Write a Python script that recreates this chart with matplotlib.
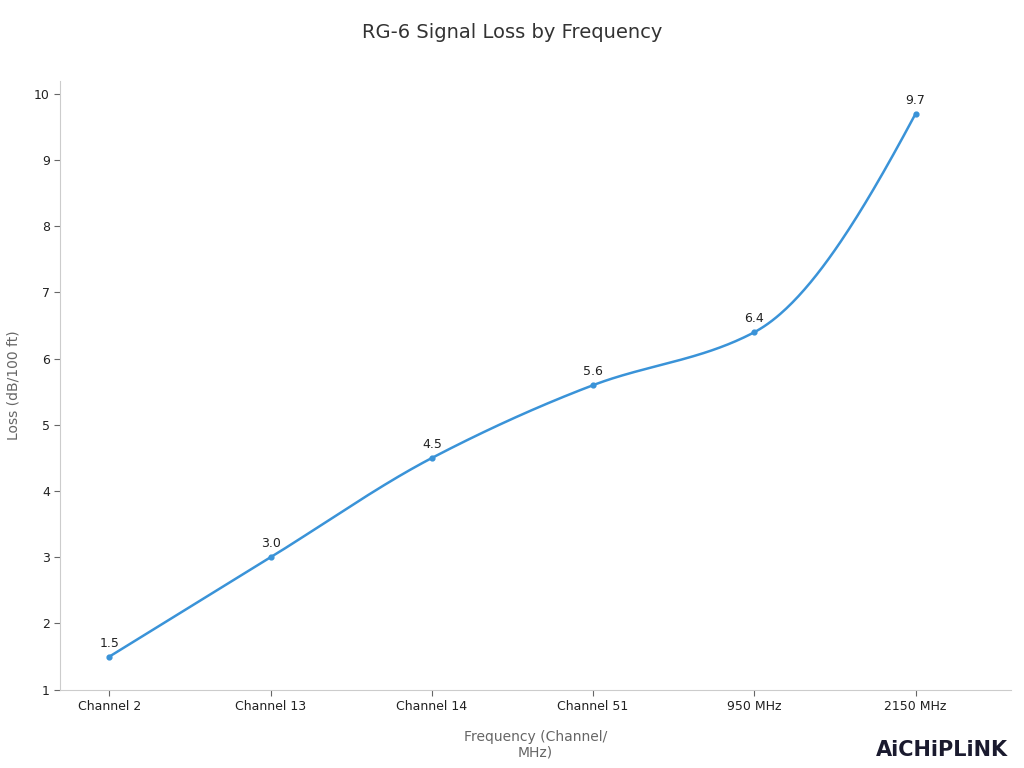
import numpy as np
import matplotlib
matplotlib.use("Agg")
import matplotlib.pyplot as plt

categories = ["Channel 2", "Channel 13", "Channel 14", "Channel 51", "950 MHz", "2150 MHz"]
loss = [1.5, 3.0, 4.5, 5.6, 6.4, 9.7]

def pchip(x, y, xs):
    x = np.asarray(x, float); y = np.asarray(y, float)
    h = np.diff(x); d = np.diff(y) / h
    n = len(x); m = np.zeros(n)
    for k in range(1, n - 1):
        if d[k-1] * d[k] > 0:
            m[k] = 3 * (h[k-1] + h[k]) / ((2*h[k] + h[k-1]) / d[k-1] + (h[k] + 2*h[k-1]) / d[k])
    m[0] = ((2*h[0] + h[1]) * d[0] - h[0] * d[1]) / (h[0] + h[1])
    if np.sign(m[0]) != np.sign(d[0]): m[0] = 0
    m[-1] = ((2*h[-1] + h[-2]) * d[-1] - h[-1] * d[-2]) / (h[-1] + h[-2])
    if np.sign(m[-1]) != np.sign(d[-1]): m[-1] = 0
    out = np.empty_like(xs)
    for i, xv in enumerate(xs):
        k = min(np.searchsorted(x, xv, side="right") - 1, n - 2)
        t = (xv - x[k]) / h[k]
        h00 = 2*t**3 - 3*t**2 + 1; h10 = t**3 - 2*t**2 + t
        h01 = -2*t**3 + 3*t**2; h11 = t**3 - t**2
        out[i] = h00*y[k] + h10*h[k]*m[k] + h01*y[k+1] + h11*h[k]*m[k+1]
    return out

fig = plt.figure(figsize=(10.24, 7.68), dpi=100)
ax = fig.add_axes([0.059, 0.102, 0.928, 0.793])
x = np.arange(len(categories))
xs = np.linspace(0, len(categories) - 1, 400)
color = "#3a93d8"
ax.plot(xs, pchip(x, loss, xs), color=color, lw=1.8)
ax.scatter(x, loss, color=color, s=12, zorder=3)
for xi, v in zip(x, loss):
    ax.annotate(f"{v:.1f}", (xi, v), xytext=(0, 5), textcoords="offset points",
                ha="center", va="bottom", fontsize=9, color="#222222")
ax.set_xlim(-0.304, 5.59)
ax.set_ylim(1, 10.2)
ax.set_yticks(range(1, 11))
ax.set_xticks(x)
ax.set_xticklabels(categories)
ax.tick_params(labelsize=9, colors="#222222")
ax.tick_params(axis="both", color="#666666", length=4)
for s in ["top", "right"]:
    ax.spines[s].set_visible(False)
for s in ["left", "bottom"]:
    ax.spines[s].set_color("#cccccc")
ax.set_xlabel("Frequency (Channel/\nMHz)", fontsize=10, color="#666666", labelpad=12)
ax.set_ylabel("Loss (dB/100 ft)", fontsize=10, color="#666666", labelpad=10)
fig.suptitle("RG-6 Signal Loss by Frequency", y=0.97, fontsize=14, color="#333333")
fig.text(0.92, 0.015, "AiCHiPLiNK", ha="center", fontsize=15, fontweight="bold", color="#1a1a2e")
fig.savefig("out.png", dpi=100)
